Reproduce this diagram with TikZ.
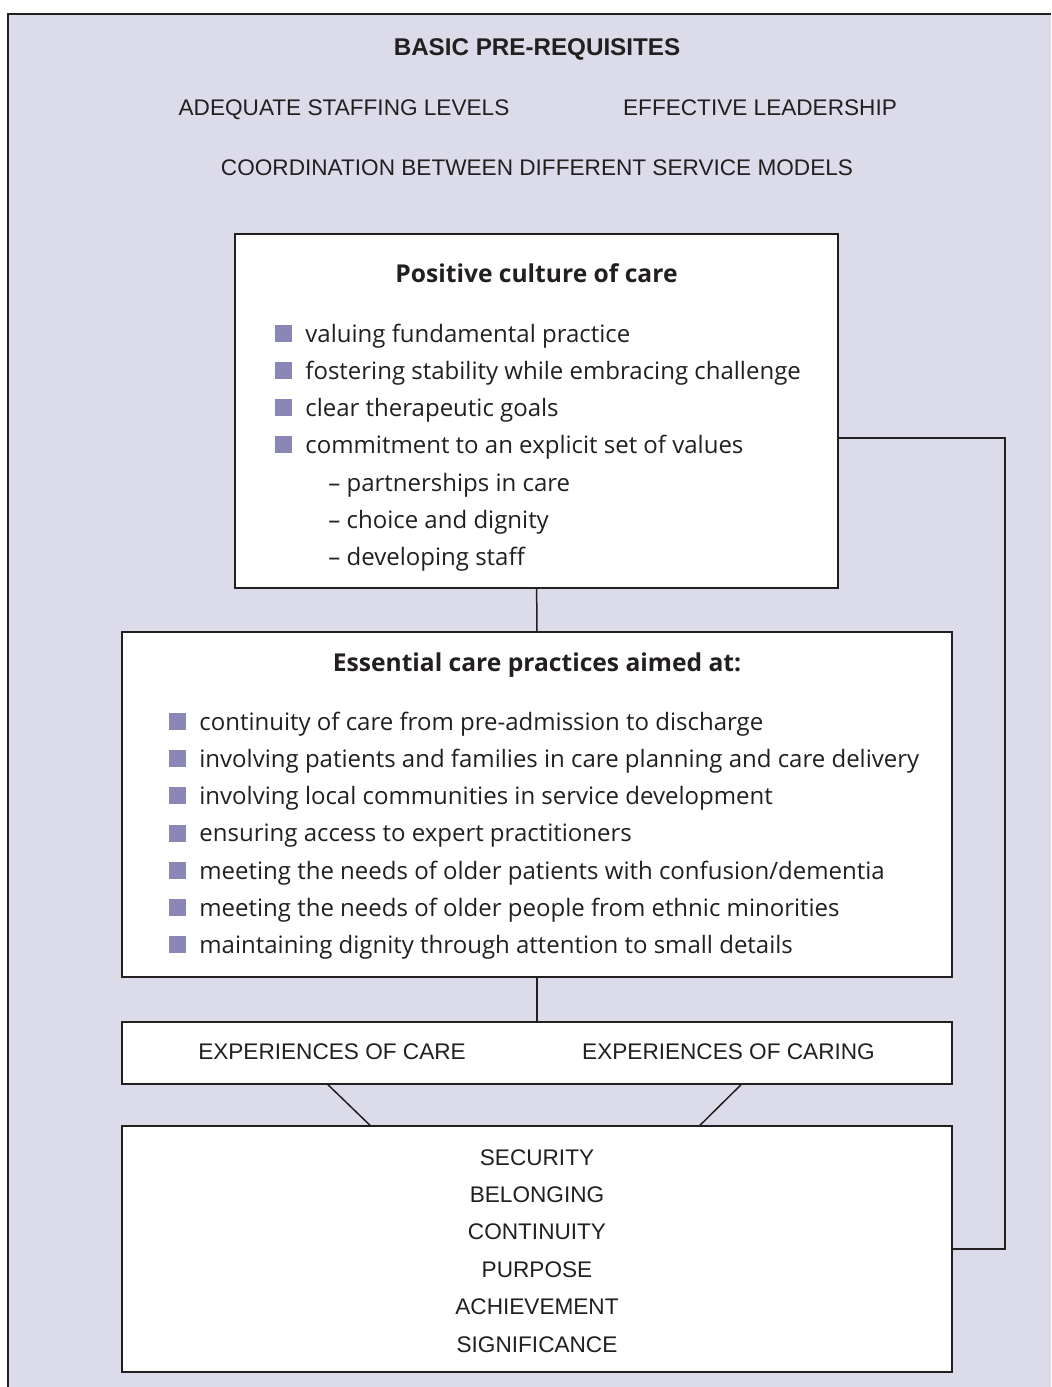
\documentclass[tikz,border=0pt]{standalone}
\usepackage{fontspec}
\setmainfont{Liberation Sans}
\newfontfamily\listfont{Open Sans}
\usetikzlibrary{calc}
\usetikzlibrary{positioning}

\definecolor{framebg}{RGB}{220,219,233}
\definecolor{bulletsq}{RGB}{138,134,181}
\definecolor{linegray}{RGB}{35,31,32}

\tikzset{
  box/.style={draw=linegray, line width=0.75pt, fill=white, inner sep=0pt},
  caps/.style={anchor=base, inner sep=0pt, text=linegray, font=\fontsize{11.3}{13}\selectfont},
  capsbold/.style={caps, font=\bfseries\fontsize{12.1}{14}\selectfont},
  head/.style={anchor=base, inner sep=0pt, text=linegray, font=\listfont\bfseries\fontsize{12.3}{14}\selectfont},
  item/.style={anchor=base west, inner sep=0pt, text=linegray, font=\listfont\fontsize{12}{14}\selectfont},
  bullet/.style={anchor=south west, fill=bulletsq, minimum size=8.5pt, inner sep=0pt},
  link/.style={draw=linegray, line width=0.75pt}
}

\begin{document}
\begin{tikzpicture}[x=0.5pt,y=-0.5pt]
	\useasboundingbox (0,0) rectangle (1051,1387);
	\fill[framebg] (8,14) rectangle (1051,1387);
	\draw[linegray, line width=1pt] (1051,14) -- (8,14) -- (8,1387);

	\node[capsbold] (basic) at (537,55) {BASIC PRE-REQUISITES};
	\node[caps] (staffing) at (344,115) {ADEQUATE STAFFING LEVELS};
	\node[caps] (leadership) at (760,115) {EFFECTIVE LEADERSHIP};
	\node[caps] (coordination) at (537,175) {COORDINATION BETWEEN DIFFERENT SERVICE MODELS};

	\node[box, minimum width=301.5pt, minimum height=177pt] (culture) at (536.5,411) {};
	\node[box, minimum width=415pt, minimum height=172.5pt] (practices) at (537,804.5) {};
	\node[box, minimum width=415pt, minimum height=31pt] (experiences) at (537,1053) {};
	\node[box, minimum width=415pt, minimum height=123pt] (outcomes) at (537,1249) {};

	\draw[link] (culture) -- (practices);
	\draw[link] (practices) -- (experiences);
	\draw[link] ([xshift=-104.5pt]experiences.south) -- ([xshift=-83.5pt]outcomes.north);
	\draw[link] ([xshift=102pt]experiences.south) -- ([xshift=81.5pt]outcomes.north);
	\draw[link] ([yshift=-13.5pt]culture.east) -- ++(83pt,0) |- (outcomes.east);

	\node[head] (culturehead) at (536.5,282) {Positive culture of care};
	\foreach \txt [count=\i] in {valuing fundamental practice,
		fostering stability while embracing challenge,
		clear therapeutic goals,
		commitment to an explicit set of values} {
		\node[bullet] (cb\i) at (275,305+37*\i) {};
		\node[item] (ci\i) at (305,305+37*\i) {\txt};
	}
	\foreach \txt [count=\i from 5] in {partnerships in care,
		choice and dignity,
		developing staff} {
		\node[item] (ci\i) at (328,305+37.2*\i) {\textendash\ \txt};
	}

	\node[head] (practicehead) at (537,671) {Essential care practices aimed at:};
	\foreach \txt [count=\i] in {continuity of care from pre-admission to discharge,
		involving patients and families in care planning and care delivery,
		involving local communities in service development,
		ensuring access to expert practitioners,
		meeting the needs of older patients with confusion/dementia,
		meeting the needs of older people from ethnic minorities,
		maintaining dignity through attention to small details} {
		\node[bullet] (pb\i) at (169,692.7+37.3*\i) {};
		\node[item] (pi\i) at (199,692.7+37.3*\i) {\txt};
	}

	\node[caps] (ofcare) at (332,1059) {EXPERIENCES OF CARE};
	\node[caps] (ofcaring) at (728.5,1059) {EXPERIENCES OF CARING};

	\foreach \txt [count=\i] in {SECURITY,BELONGING,CONTINUITY,PURPOSE,ACHIEVEMENT,SIGNIFICANCE} {
		\node[caps] (o\i) at (537,1127.6+37.4*\i) {\txt};
	}
\end{tikzpicture}
\end{document}
